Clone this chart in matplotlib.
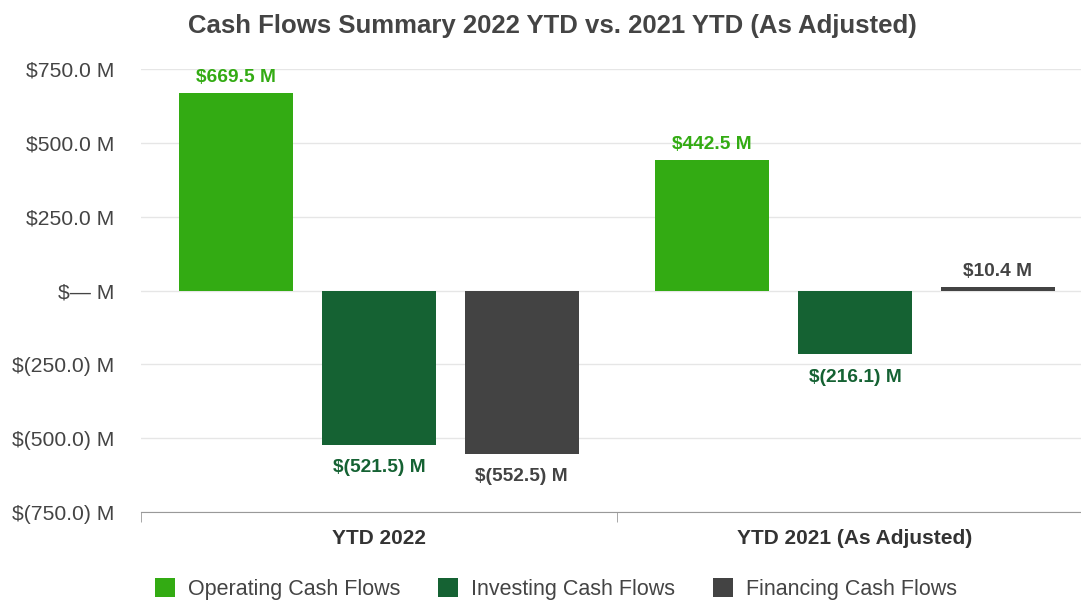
import numpy as np
import matplotlib
matplotlib.use('Agg')
from matplotlib import pyplot as plt
from matplotlib.patches import Patch

categories = ['YTD 2022', 'YTD 2021 (As Adjusted)']
series_names = ['Operating Cash Flows', 'Investing Cash Flows', 'Financing Cash Flows']
operating = [669.5, 442.5]
investing = [-521.5, -216.1]
financing = [-552.5, 10.4]
yticks = [-750, -500, -250, 0, 250, 500, 750]
ytick_labels = ['$(750.0) M', '$(500.0) M', '$(250.0) M', '$— M', '$250.0 M', '$500.0 M', '$750.0 M']

colors = ['#33ab13', '#156233', '#434343']
label_colors = ['#33ab13', '#156233', '#434343']
text_grey = '#444444'

plt.rcParams['font.family'] = ['Liberation Sans', 'DejaVu Sans']

fig = plt.figure(figsize=(10.81, 6.01), dpi=100)
ax = fig.add_axes([141/1081, 89/601, 952/1081, 443/601])

x = np.arange(len(categories))
offsets = [-0.30, 0.0, 0.30]
width = 0.24

def fmt(v):
    if v < 0:
        return '$({:.1f}) M'.format(-v)
    return '${:.1f} M'.format(v)

for i, vals in enumerate([operating, investing, financing]):
    bars = ax.bar(x + offsets[i], vals, width, color=colors[i], zorder=3)
    for b, v in zip(bars, vals):
        cx = b.get_x() + b.get_width() / 2
        if v >= 0:
            ax.annotate(fmt(v), (cx, v), xytext=(0, 5), textcoords='offset points',
                        ha='center', va='bottom', fontsize=13.8, fontweight='bold', color=label_colors[i])
        else:
            ax.annotate(fmt(v), (cx, v), xytext=(0, -10.5), textcoords='offset points',
                        ha='center', va='top', fontsize=13.8, fontweight='bold', color=label_colors[i])

ax.set_xlim(-0.5, 1.5)
ax.set_ylim(-750, 750)
ax.set_yticks(yticks)
ax.set_yticklabels(ytick_labels)
ax.set_xticks(x)
ax.set_xticklabels(categories, fontweight='bold')
ax.set_xticks([-0.5, 0.5, 1.5], minor=True)

ax.grid(axis='y', color='#e6e6e6', linewidth=1, zorder=0)
for s in ['top', 'right', 'left']:
    ax.spines[s].set_visible(False)
ax.spines['bottom'].set_color('#999999')
ax.tick_params(axis='y', length=0, labelsize=15.2, labelcolor=text_grey, pad=19)
ax.tick_params(axis='x', which='major', length=0, labelsize=15, labelcolor='#333333', pad=12)
ax.tick_params(axis='x', which='minor', length=7, color='#999999', direction='out')

fig.text(552/1081, 1 - 26/601, 'Cash Flows Summary 2022 YTD vs. 2021 YTD (As Adjusted)',
         ha='center', va='center', fontsize=18.5, fontweight='bold', color=text_grey)

handles = [Patch(facecolor=c) for c in colors]
fig.legend(handles, series_names, loc='center', bbox_to_anchor=(556/1081, 1 - 589/601), ncol=3,
           frameon=False, fontsize=15.5, handlelength=0.93, handleheight=0.93, columnspacing=1.75,
           handletextpad=0.6, labelcolor=text_grey, borderpad=0)

fig.savefig('out.png', dpi=100)
